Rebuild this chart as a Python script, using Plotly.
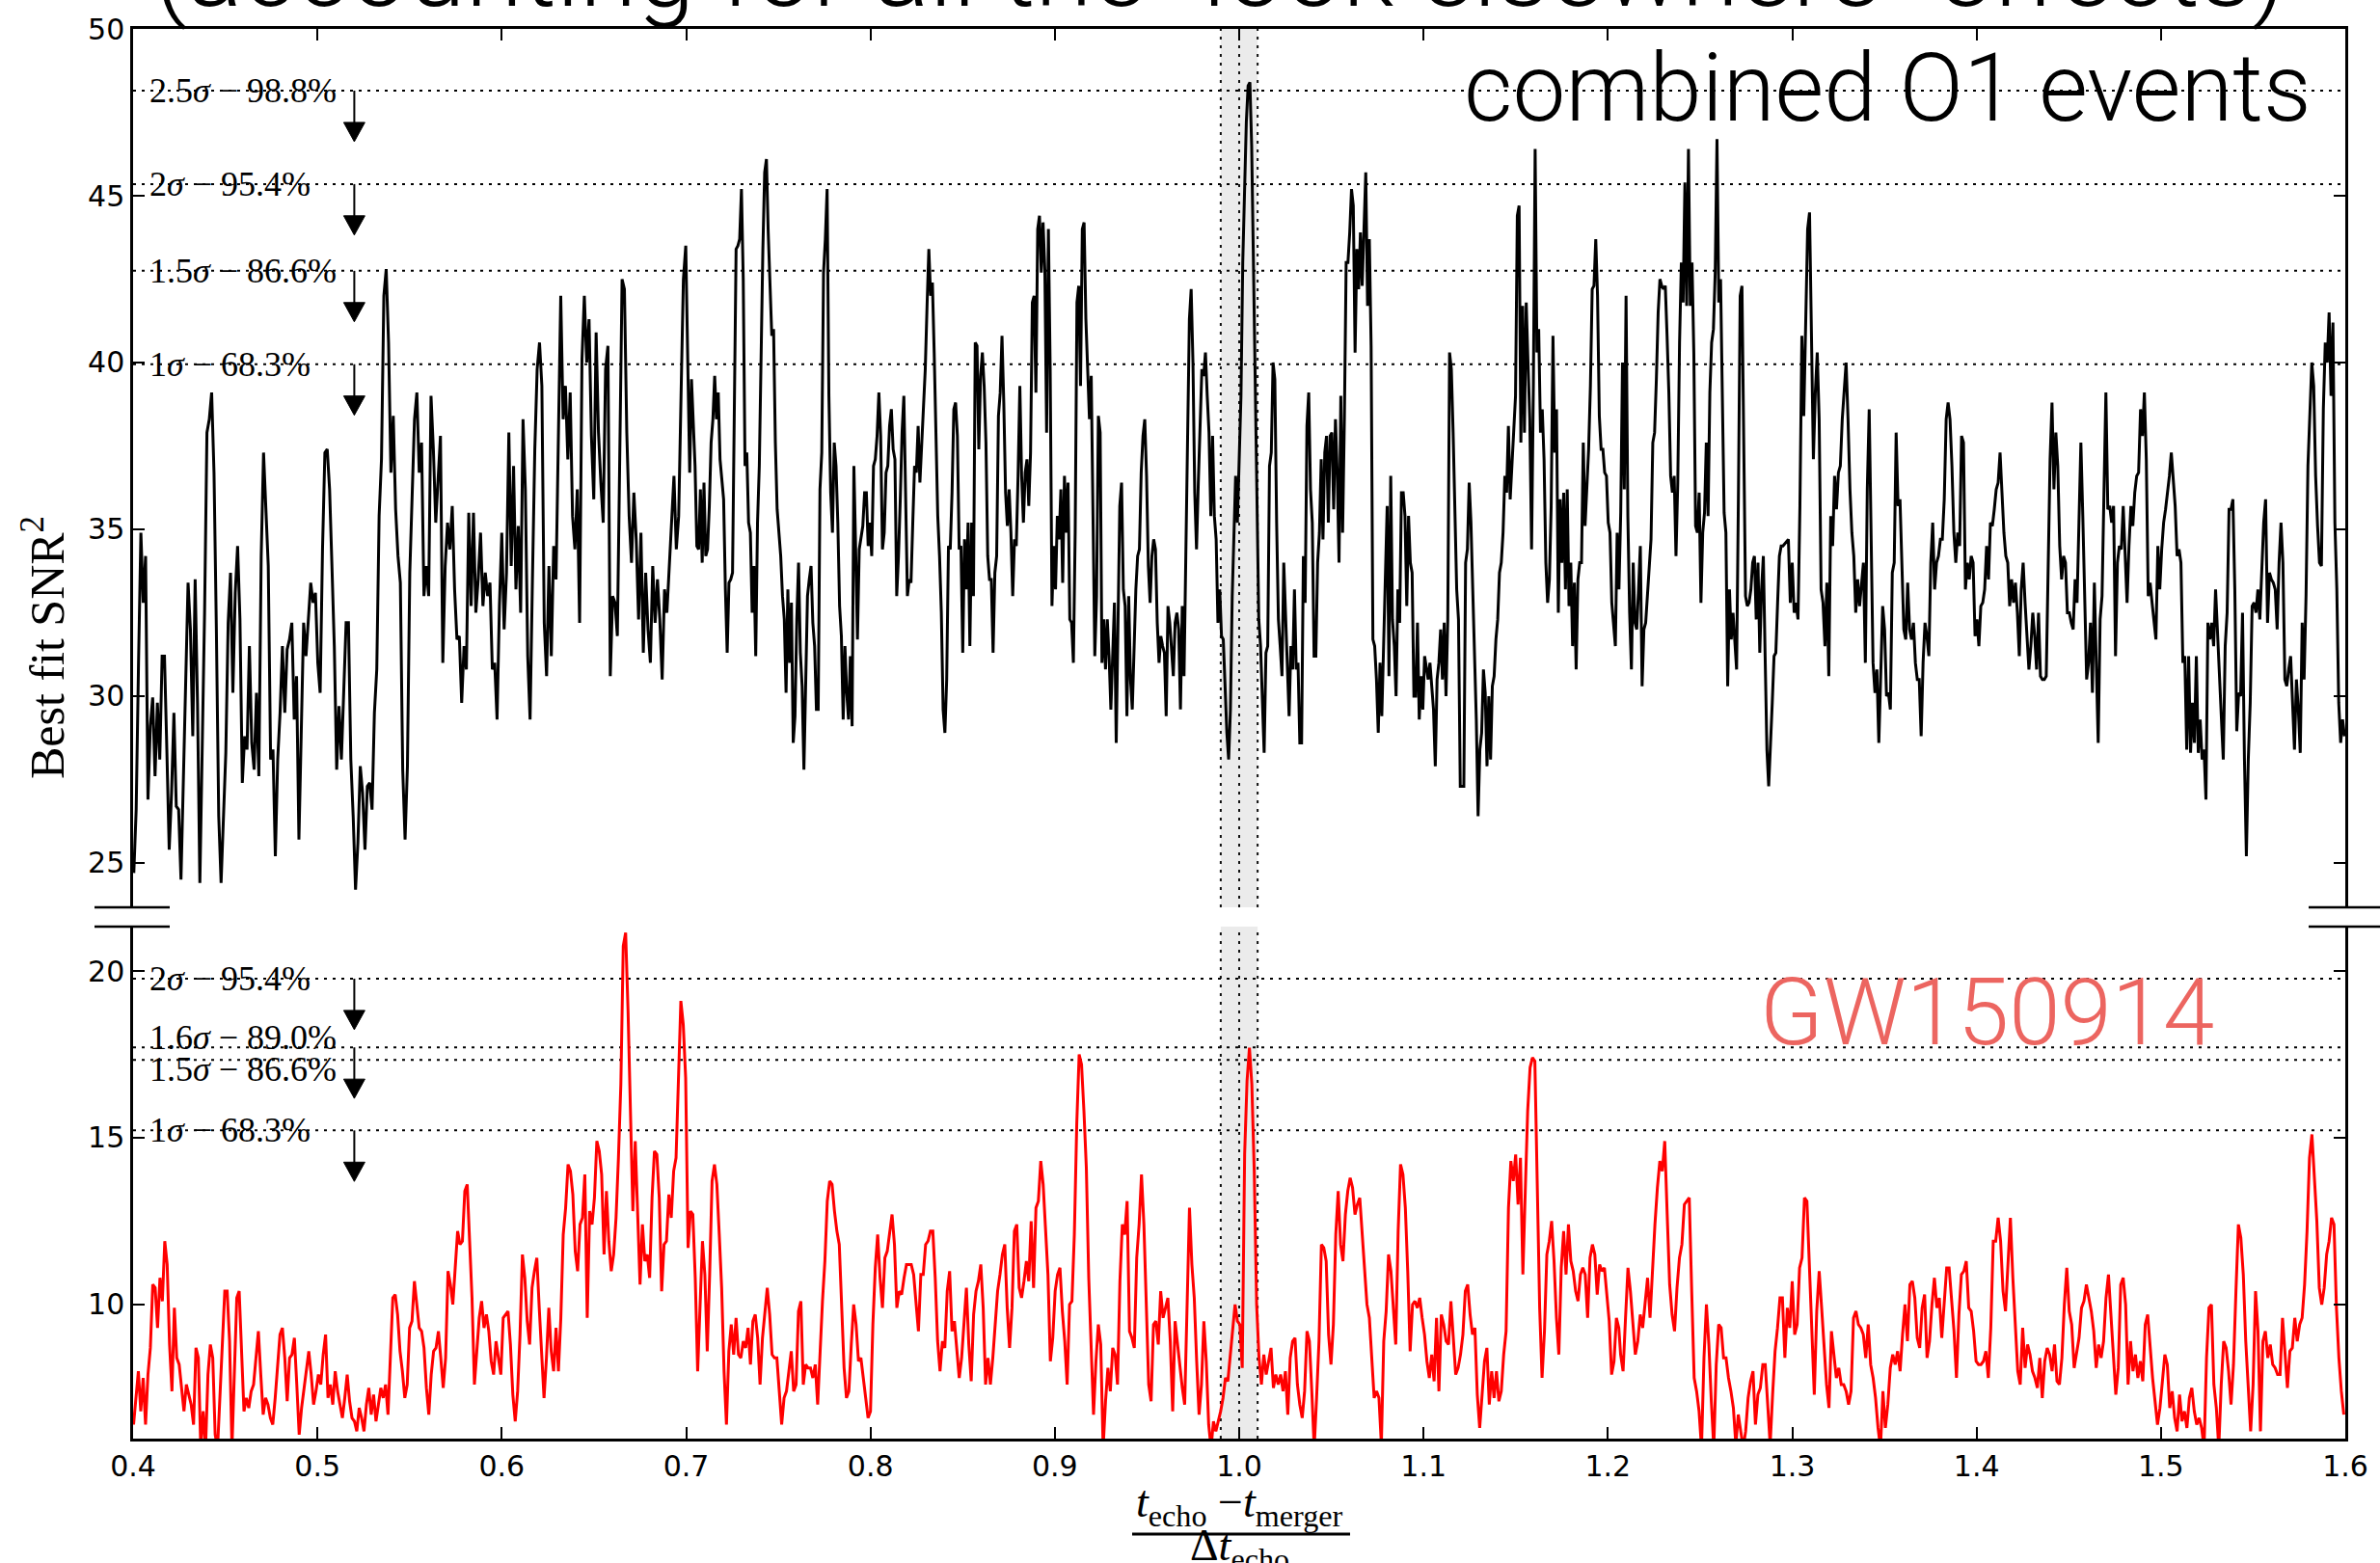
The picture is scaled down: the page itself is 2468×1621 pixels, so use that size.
import numpy as np
import plotly.graph_objects as go

# ---------------------------------------------------------------------------
# Best-fit SNR^2 versus echo time, sampled segment by segment
# ---------------------------------------------------------------------------
# combined O1 events (upper panel)
black_a_span = (0.4004, 0.6998)
black_a = [24.7, 26.6, 31.0, 34.9, 32.8, 34.2, 26.9, 29.1, 29.96, 27.6, 29.8, 28.1, 31.2, 31.2, 28.4, 25.4, 27.1, 29.5, 26.7, 26.6,
           24.5, 27.6, 29.8, 33.4, 32.0, 28.8, 33.5, 29.8, 24.4, 28.4, 32.5, 37.9, 38.3, 39.1, 36.7, 32.0, 26.4, 24.4, 26.1, 28.3,
           32.2, 33.7, 30.1, 33.1, 34.5, 32.3, 27.4, 28.8, 28.4, 31.5, 28.6, 27.8, 30.1, 27.6, 34.2, 37.3, 35.6, 33.9, 28.1, 28.4,
           25.2, 28.1, 29.5, 31.5, 29.5, 31.4, 31.7, 32.2, 29.3, 30.6, 25.7, 28.6, 32.2, 31.2, 32.5, 33.4, 32.8, 33.1, 31.0, 30.1,
           34.4, 37.3, 37.4, 36.2, 33.9, 31.5, 27.8, 29.7, 28.1, 30.4, 32.2, 32.2, 28.1, 26.4, 24.2, 25.6, 27.9, 27.1, 25.4, 27.3,
           27.4, 26.6, 29.5, 30.8, 35.4, 37.1, 42.0, 42.8, 40.6, 36.7, 38.4, 35.6, 34.2, 33.4, 27.8, 25.7, 27.9, 33.7, 36.2, 38.3,
           39.1, 36.7, 37.6, 33.0, 33.9, 33.0, 39.0, 37.4, 35.2, 36.6, 37.8, 31.0, 33.9, 35.2, 34.4, 35.7, 33.2, 31.7, 31.8, 29.8,
           31.5, 30.8, 35.5, 32.7, 35.5, 32.5, 33.5, 34.9, 32.7, 33.7, 33.0, 33.4, 30.8, 31.0, 29.3, 32.7, 34.9, 32.0, 33.7, 37.9,
           33.9, 36.9, 33.2, 35.1, 32.5, 38.3, 36.2, 31.2, 29.3, 33.5, 37.4, 39.8, 40.6, 39.3, 32.2, 30.6, 33.9, 31.2, 34.5, 33.5,
           37.6, 42.0, 38.3, 39.3, 37.1, 39.1, 35.4, 34.4, 36.2, 32.2, 40.1, 42.0, 40.0, 41.3, 37.8, 35.9, 40.9, 37.9, 36.4, 35.2,
           39.8, 40.5, 30.6, 33.0, 32.8, 31.8, 37.1, 42.5, 42.2, 37.9, 35.4, 34.0, 36.1, 34.7, 32.3, 34.9, 31.3, 33.7, 32.0, 31.0,
           33.9, 32.2, 33.5, 32.3, 30.5, 33.2, 32.5, 33.9, 35.2, 36.6, 34.4, 35.4, 39.0, 42.5, 43.5]

black_b_span = (0.70097, 0.99719)
black_b = [39.3, 36.7, 39.5, 38.3, 36.9, 34.5, 34.4, 36.2, 34.0, 36.4, 34.2, 34.4, 35.7, 37.6, 38.3, 39.6, 38.3, 39.1, 37.1, 36.5,
           35.9, 33.2, 31.3, 33.4, 33.5, 33.7, 39.5, 43.4, 43.5, 43.7, 45.2, 42.5, 36.9, 37.3, 35.2, 34.9, 32.5, 33.9, 31.2, 35.2,
           36.9, 40.3, 43.4, 45.7, 46.1, 43.9, 42.5, 40.8, 41.0, 37.6, 35.6, 34.9, 34.2, 33.0, 32.3, 30.1, 33.2, 31.0, 32.8, 28.6,
           29.4, 32.3, 34.0, 31.3, 30.3, 27.8, 30.0, 33.0, 33.5, 33.9, 32.2, 31.5, 29.6, 29.6, 36.2, 37.3, 42.7, 43.7, 45.2, 39.0,
           36.1, 34.9, 37.6, 36.9, 35.2, 32.7, 31.8, 29.3, 31.5, 30.1, 29.3, 31.2, 29.1, 36.9, 34.4, 31.7, 34.4, 34.7, 35.1, 36.1,
           36.1, 34.5, 35.2, 34.2, 36.9, 37.1, 37.8, 39.1, 37.8, 34.4, 34.9, 36.7, 36.9, 38.1, 38.6, 37.4, 37.1, 33.0, 34.2, 35.9,
           37.9, 39.0, 35.6, 33.0, 33.5, 33.4, 35.2, 36.9, 36.7, 38.1, 36.4, 37.6, 38.4, 39.8, 41.7, 43.4, 42.0, 42.4, 40.3, 37.4,
           35.4, 34.2, 32.5, 29.6, 28.9, 30.5, 34.5, 34.4, 36.1, 38.6, 38.8, 37.8, 34.4, 34.5, 31.3, 34.7, 33.2, 35.2, 31.5, 35.2,
           33.0, 40.6, 40.5, 37.4, 39.6, 40.3, 39.3, 37.6, 34.2, 33.5, 33.5, 31.3, 33.7, 34.2, 38.4, 39.1, 40.8, 38.8, 36.1, 35.1,
           36.2, 34.9, 33.0, 34.7, 34.5, 36.6, 39.3, 36.6, 35.2, 36.7, 37.1, 35.7, 37.3, 41.8, 42.0, 39.1, 44.0, 44.4, 42.7, 44.2,
           42.8, 37.9, 44.0, 39.8, 32.7, 34.5, 33.2, 35.4, 34.7, 36.2, 33.4, 36.6, 34.9, 36.4, 32.3, 32.2, 31.0, 34.9, 41.8, 42.3,
           39.3, 44.0, 44.2, 41.3, 39.8, 38.3, 39.6, 35.4, 31.2, 33.0, 38.4, 37.9, 31.0, 32.3, 30.8, 32.3, 31.2, 29.6, 31.2, 32.8,
           28.6, 32.7, 35.7, 36.4, 33.2, 32.7, 29.4, 33.0, 30.5, 29.6, 31.8, 33.2, 34.2, 34.4, 36.7, 37.8, 38.3, 36.6, 33.9, 32.8,
           34.2, 34.7, 34.4, 32.2, 31.0, 31.8, 31.5, 31.3, 29.4, 32.7, 32.2, 31.5, 30.6, 32.2, 32.5, 32.0, 29.6, 32.7, 30.6, 34.2,
           37.3, 41.3, 42.2, 40.0, 36.1, 34.4, 36.4, 38.1, 39.8, 39.6, 40.3, 39.0, 37.9, 35.4, 37.8, 35.4, 34.7, 32.2, 33.2, 31.8,
           31.7, 30.3, 28.9, 28.1, 29.6, 33.0, 35.1]

black_c_span = (0.99807, 1.29497)
black_c = [36.6, 35.2, 36.9, 39.0, 43.0, 45.0, 47.2, 48.3, 48.4, 46.5, 42.7, 39.3, 35.4, 32.3, 31.5, 29.8, 28.3, 31.3, 31.5, 36.9,
           37.3, 40.0, 39.5, 35.2, 32.3, 31.5, 30.6, 34.0, 32.5, 31.5, 29.4, 31.5, 30.8, 33.2, 30.8, 31.0, 28.6, 28.6, 34.2, 32.8,
           38.1, 39.1, 36.2, 35.2, 31.2, 31.2, 34.0, 34.9, 37.1, 34.7, 37.3, 37.8, 35.2, 37.8, 37.9, 35.6, 38.3, 36.7, 34.0, 39.0,
           34.9, 38.3, 43.0, 43.0, 43.9, 45.2, 44.7, 40.3, 43.4, 42.2, 43.9, 42.3, 44.0, 45.7, 41.7, 43.7, 40.5, 31.7, 31.5, 30.5,
           28.9, 31.0, 29.4, 31.5, 34.2, 35.7, 30.6, 36.6, 32.3, 31.5, 30.0, 33.2, 32.2, 36.1, 36.1, 35.4, 32.7, 35.4, 34.0, 33.7,
           30.0, 30.0, 32.2, 29.3, 30.6, 29.6, 31.2, 30.8, 30.5, 31.0, 30.3, 29.6, 27.9, 30.5, 31.0, 32.0, 30.5, 32.2, 30.0, 32.3,
           40.3, 39.8, 37.9, 35.2, 33.2, 32.3, 27.3, 27.3, 27.3, 34.0, 34.4, 36.4, 35.2, 33.2, 31.3, 29.3, 26.4, 28.4, 28.9, 30.8,
           30.1, 27.9, 30.0, 28.1, 30.3, 30.6, 31.7, 32.3, 33.7, 34.0, 34.9, 36.6, 36.1, 38.1, 35.9, 36.9, 37.8, 39.0, 44.4, 44.7,
           37.6, 41.7, 37.9, 41.8, 40.0, 38.3, 34.4, 39.3, 46.4, 40.3, 41.0, 37.9, 38.6, 37.1, 34.0, 32.8, 33.5, 35.7, 40.8, 37.3,
           38.6, 32.5, 35.9, 34.0, 36.1, 33.2, 36.2, 32.7, 34.0, 31.5, 33.4, 30.8, 33.5, 34.0, 34.0, 37.6, 35.1, 36.1, 37.4, 39.3,
           42.2, 42.3, 43.7, 42.0, 38.4, 37.4, 37.4, 36.7, 36.6, 35.2, 34.9, 32.8, 32.2, 31.5, 34.9, 33.2, 35.5, 40.0, 36.2, 42.0,
           35.4, 32.5, 30.8, 34.0, 32.2, 32.0, 33.2, 34.5, 30.3, 32.0, 32.2, 33.0, 33.7, 34.7, 37.6, 37.9, 39.5, 41.5, 42.5, 42.3,
           42.2, 42.3, 40.8, 39.1, 36.6, 36.1, 36.6, 34.2, 36.4, 40.6, 43.0, 41.8, 45.4, 41.7, 46.4, 41.7, 43.0, 40.3, 35.1, 34.9,
           36.1, 32.8, 34.9, 35.5, 37.6, 35.4, 39.1, 40.6, 41.0, 42.7, 46.7, 41.8, 42.5, 39.5, 35.5, 34.9, 30.3, 33.2, 31.7, 32.5,
           31.7, 30.8, 35.9, 42.0, 42.3, 36.7, 33.0, 32.7, 32.8, 33.2, 34.0, 34.2, 32.3, 34.0, 31.3, 33.2, 34.2, 31.2, 28.4, 27.3,
           28.4, 29.8, 31.2, 31.3, 32.8, 34.2, 34.5, 34.5]

black_d_span = (1.29791, 1.59958)
black_d = [34.7, 32.8, 34.0, 32.5, 32.8, 32.3, 35.7, 40.8, 38.4, 41.3, 44.0, 44.5, 40.6, 37.1, 39.1, 40.3, 38.3, 33.2, 32.8, 31.5,
           33.4, 30.6, 35.4, 34.5, 36.6, 35.6, 36.7, 36.9, 38.3, 39.3, 40.0, 38.3, 36.2, 34.9, 34.2, 32.5, 33.5, 32.7, 33.4, 34.0,
           31.0, 36.2, 38.6, 34.9, 31.0, 30.1, 30.8, 28.6, 30.6, 32.7, 32.0, 30.0, 30.1, 29.6, 33.7, 34.0, 37.9, 35.7, 35.9, 34.0,
           32.0, 31.7, 33.4, 32.0, 31.7, 32.2, 31.0, 30.5, 30.5, 28.8, 31.0, 32.2, 31.8, 31.2, 34.0, 35.2, 33.2, 34.0, 34.2, 34.7,
           34.7, 35.9, 38.3, 38.8, 38.3, 36.9, 34.9, 34.0, 34.9, 34.5, 37.8, 37.6, 33.2, 34.0, 33.5, 34.2, 34.0, 31.8, 32.3, 31.5,
           32.7, 32.8, 33.2, 34.5, 33.5, 35.2, 35.1, 35.6, 36.2, 36.4, 37.3, 36.1, 34.9, 34.2, 34.0, 32.7, 33.5, 32.8, 33.4, 32.5,
           31.2, 33.2, 34.0, 32.8, 31.8, 30.8, 31.5, 32.5, 31.8, 30.8, 32.5, 30.6, 30.5, 30.5, 30.6, 34.4, 37.1, 38.8, 36.2, 37.9,
           36.9, 34.5, 33.5, 34.2, 34.0, 32.5, 32.5, 32.2, 32.0, 33.5, 32.8, 35.2, 37.6, 35.4, 33.2, 30.5, 31.0, 32.2, 30.1, 33.4,
           31.0, 28.6, 32.3, 33.0, 36.1, 39.1, 35.6, 35.7, 35.2, 35.7, 31.2, 34.0, 34.5, 34.4, 35.7, 34.0, 32.8, 34.5, 35.7, 35.1,
           36.1, 36.6, 36.7, 38.6, 37.8, 39.1, 37.1, 33.0, 33.4, 32.8, 32.3, 31.7, 34.5, 33.2, 34.4, 35.2, 35.6, 36.1, 36.6, 37.3,
           36.6, 35.7, 34.2, 34.4, 34.0, 31.0, 31.2, 28.4, 31.2, 28.3, 29.8, 28.6, 31.2, 28.3, 29.3, 28.1, 28.4, 26.9, 32.2, 31.7,
           32.2, 31.5, 33.2, 31.8, 30.8, 29.4, 28.1, 31.5, 32.5, 35.6, 35.6, 35.9, 33.2, 28.95, 30.1, 30.0, 32.5, 28.1, 25.2, 28.1,
           29.8, 32.7, 32.8, 32.5, 33.2, 32.3, 33.7, 35.2, 35.9, 32.2, 33.7, 33.5, 33.4, 33.2, 32.0, 34.0, 35.2, 34.0, 30.5, 30.3,
           30.8, 31.2, 29.8, 28.4, 30.5, 29.6, 28.3, 32.2, 30.5, 33.0, 36.9, 38.6, 40.0, 39.3, 36.6, 35.1, 34.0, 33.9, 38.6, 40.6,
           40.0, 41.5, 39.0, 41.2, 35.2, 33.2, 29.8, 28.6, 29.3, 28.8]

# GW150914 (lower panel)
red_a_span = (0.40026, 0.80391)
red_a = [6.4, 7.1, 8.0, 6.8, 7.8, 6.4, 7.9, 8.7, 10.6, 10.5, 9.3, 10.8, 10.1, 11.9, 11.2, 8.8, 7.4, 9.9, 8.4, 8.2,
         7.5, 6.8, 7.6, 7.3, 7.0, 6.4, 8.7, 8.4, 5.7, 6.8, 5.7, 7.9, 8.8, 8.4, 6.1, 5.7, 7.4, 9.2, 10.4, 10.4,
         8.9, 5.7, 8.3, 10.2, 10.4, 8.5, 6.8, 7.2, 6.9, 7.4, 7.6, 8.4, 9.2, 7.9, 6.7, 7.2, 7.0, 6.6, 6.4, 7.2,
         8.1, 9.1, 9.3, 8.4, 7.1, 8.4, 8.5, 9.0, 7.6, 6.1, 6.9, 7.5, 8.0, 8.6, 7.9, 7.0, 7.4, 7.9, 7.6, 8.5,
         9.1, 7.2, 7.6, 7.0, 8.0, 7.4, 7.0, 6.6, 7.2, 7.9, 7.1, 6.6, 6.5, 6.2, 6.9, 6.6, 6.2, 7.0, 7.5, 6.7,
         7.3, 6.5, 7.0, 7.5, 7.2, 7.6, 6.7, 8.6, 10.2, 10.3, 9.7, 8.6, 8.0, 7.2, 7.6, 9.3, 9.5, 10.7, 10.0, 9.3,
         9.2, 8.7, 7.5, 6.7, 7.9, 8.6, 8.7, 9.2, 8.4, 7.5, 8.4, 11.0, 10.6, 10.0, 11.1, 12.2, 11.8, 11.9, 13.4, 13.6,
         11.9, 10.2, 7.6, 8.6, 9.6, 10.1, 9.3, 9.7, 9.2, 8.3, 7.9, 8.9, 8.4, 7.9, 9.6, 9.7, 9.8, 8.8, 7.3, 6.5,
         7.4, 9.1, 11.5, 10.8, 9.5, 8.8, 10.5, 11.0, 11.4, 9.9, 8.4, 7.2, 8.4, 9.9, 8.6, 8.0, 9.3, 8.0, 9.6, 12.1,
         12.9, 14.2, 14.0, 13.3, 11.6, 11.0, 12.4, 12.6, 13.9, 9.6, 12.8, 12.4, 13.2, 14.9, 14.6, 13.9, 11.5, 13.4, 11.9, 11.0,
         11.5, 12.6, 14.4, 16.6, 20.75, 21.15, 18.8, 15.4, 12.8, 14.9, 12.4, 10.6, 12.4, 11.3, 11.5, 10.8, 13.2, 14.6, 14.5, 13.2,
         10.4, 11.8, 11.9, 13.3, 12.6, 14.0, 14.4, 17.1, 19.1, 18.4, 16.8, 11.7, 12.8, 12.7, 10.8, 8.0, 10.0, 11.9, 10.9, 8.6,
         10.9, 13.7, 14.2, 13.6, 12.1, 10.5, 8.0, 6.4, 8.6, 9.4, 8.5, 9.6, 8.5, 8.4, 8.9, 8.7, 9.3, 8.2, 9.5, 9.7,
         9.0, 7.6, 9.0, 9.8, 10.5, 9.7, 8.5, 8.4, 8.4, 7.4, 6.4, 7.2, 7.4, 8.0, 8.6, 7.4, 7.6, 9.8, 10.1, 7.6,
         8.2, 8.1, 8.1, 7.8, 8.2, 7.0, 8.7, 10.1, 11.3, 13.1, 13.7, 13.6, 12.8, 12.2, 11.8, 10.1, 8.1, 7.2, 7.4, 8.8,
         10.0, 9.4, 8.3, 8.4, 7.7, 7.2, 6.6, 6.8, 9.4, 11.1, 12.1]

red_b_span = (0.80520, 1.20593)
red_b = [10.8, 9.9, 11.4, 11.6, 12.1, 12.7, 11.8, 9.9, 10.4, 10.3, 10.8, 11.2, 11.2, 11.2, 10.9, 10.0, 9.2, 10.9, 10.9, 11.8,
         11.9, 12.2, 12.2, 10.8, 8.9, 8.0, 8.9, 8.7, 10.4, 11.0, 9.2, 9.5, 8.6, 7.8, 8.4, 9.6, 10.5, 8.8, 7.7, 9.7,
         10.4, 10.7, 11.2, 9.9, 7.6, 8.4, 7.6, 8.4, 9.3, 10.4, 10.9, 11.5, 11.8, 9.9, 8.7, 9.9, 12.2, 12.4, 10.5, 10.2,
         10.7, 11.3, 10.7, 12.5, 10.5, 12.9, 13.1, 14.3, 13.6, 12.3, 10.9, 8.3, 9.0, 10.4, 10.9, 11.1, 9.8, 8.9, 7.6, 10.0,
         10.1, 12.1, 15.4, 17.5, 17.2, 15.8, 14.1, 10.8, 8.9, 6.7, 8.3, 9.4, 8.8, 5.7, 7.1, 8.1, 7.4, 8.7, 8.5, 7.6,
         10.7, 12.4, 12.1, 13.1, 9.2, 9.0, 8.7, 11.4, 12.4, 13.9, 12.4, 10.2, 7.6, 7.1, 9.4, 9.5, 8.8, 10.4, 9.6, 9.9,
         10.2, 8.9, 6.8, 9.5, 8.8, 8.0, 7.5, 7.0, 9.9, 12.9, 11.2, 10.2, 8.3, 6.7, 7.6, 9.5, 8.3, 6.4, 5.7, 6.5,
         6.2, 6.5, 6.8, 7.2, 7.8, 7.7, 8.4, 9.2, 10.0, 9.5, 9.4, 8.1, 14.5, 16.7, 17.7, 16.6, 14.0, 10.0, 8.4, 7.6,
         8.5, 7.9, 8.3, 8.7, 7.5, 7.9, 7.6, 7.9, 7.4, 8.0, 6.7, 8.4, 8.9, 9.0, 7.6, 7.0, 6.6, 7.4, 9.2, 8.9,
         7.4, 5.7, 7.2, 8.9, 11.8, 11.7, 11.3, 9.1, 8.2, 9.4, 12.1, 13.4, 11.8, 11.3, 12.7, 13.4, 13.8, 13.5, 12.7, 13.0,
         13.2, 12.1, 11.2, 10.0, 9.6, 8.2, 7.2, 7.4, 7.2, 5.8, 8.9, 9.8, 11.5, 11.0, 9.8, 8.8, 12.2, 14.2, 13.9, 12.9,
         11.0, 8.6, 10.0, 10.1, 9.9, 10.2, 9.6, 9.1, 8.3, 7.8, 8.5, 7.7, 9.6, 7.4, 9.7, 9.4, 8.9, 8.8, 10.1, 8.9,
         7.9, 8.1, 8.5, 9.1, 10.4, 10.6, 9.7, 9.1, 9.3, 7.3, 6.3, 7.3, 8.3, 8.7, 7.0, 8.0, 7.2, 8.0, 7.1, 7.4,
         8.5, 9.2, 12.9, 14.3, 13.7, 14.5, 13.0, 14.4, 10.9, 13.4, 15.8, 17.1, 17.4, 17.3, 13.0, 9.9, 7.8, 9.2, 11.5, 11.9,
         12.5, 11.3, 9.6, 8.5, 11.1, 12.2, 10.9, 12.4, 11.3, 11.0, 10.4, 10.1, 10.9, 11.1, 10.9, 9.6, 11.4, 11.8, 11.5, 10.3,
         11.2, 11.0, 11.1, 10.4, 9.5, 7.9, 8.3, 9.6, 9.3]

red_c_span = (1.20691, 1.59920)
red_c = [8.5, 8.0, 9.6, 11.1, 10.4, 9.3, 8.5, 8.9, 9.7, 9.3, 10.1, 10.8, 9.6, 11.2, 12.4, 13.5, 14.3, 14.0, 14.9, 12.7,
         10.6, 9.7, 9.2, 10.5, 11.4, 11.8, 13.0, 13.1, 13.2, 10.4, 7.8, 7.4, 6.8, 5.7, 8.4, 10.0, 8.8, 7.1, 5.7, 8.2,
         9.4, 9.3, 8.4, 8.4, 7.8, 7.4, 6.9, 5.8, 6.7, 6.2, 5.7, 6.2, 7.2, 7.7, 8.0, 6.4, 7.3, 7.5, 8.2, 8.2,
         6.9, 5.8, 7.3, 8.6, 9.3, 10.2, 10.2, 8.4, 9.9, 9.3, 10.7, 9.1, 9.4, 11.1, 11.4, 13.2, 13.1, 11.0, 9.2, 7.3,
         9.8, 11.0, 9.9, 8.6, 7.6, 6.9, 9.2, 8.5, 7.8, 8.1, 7.6, 7.6, 7.4, 7.0, 7.4, 9.6, 9.8, 9.4, 9.3, 9.1,
         8.4, 9.4, 8.2, 7.8, 7.2, 6.3, 5.7, 7.4, 6.3, 7.0, 8.1, 8.5, 8.2, 8.6, 8.0, 9.1, 10.0, 8.9, 10.6, 10.7,
         10.2, 9.0, 8.7, 9.9, 10.3, 8.4, 8.9, 10.0, 10.8, 9.9, 10.2, 9.0, 10.0, 11.1, 11.1, 10.2, 9.2, 7.8, 9.7, 10.9,
         11.0, 11.3, 9.9, 9.8, 9.2, 8.3, 8.2, 8.2, 8.3, 8.6, 7.8, 9.3, 11.9, 11.9, 12.6, 11.9, 10.4, 9.8, 11.4, 12.6,
         10.8, 9.2, 8.0, 7.6, 9.3, 8.1, 8.8, 8.5, 8.0, 7.8, 7.5, 8.4, 7.2, 8.3, 8.7, 8.5, 8.0, 8.8, 7.7, 7.6,
         8.4, 10.0, 11.1, 9.8, 9.4, 8.1, 8.5, 9.0, 9.9, 10.1, 10.6, 10.2, 9.8, 9.2, 8.1, 8.8, 8.4, 8.9, 10.2, 10.9,
         9.8, 8.7, 7.3, 8.1, 10.6, 10.8, 10.0, 7.6, 8.9, 8.0, 8.5, 7.8, 8.3, 7.7, 9.4, 9.7, 8.7, 7.8, 7.1, 6.4,
         6.9, 7.7, 8.5, 8.2, 6.9, 7.4, 6.6, 6.2, 7.3, 6.5, 6.8, 6.3, 7.2, 7.5, 6.8, 6.4, 6.6, 6.3, 5.7, 8.4,
         9.9, 10.0, 7.6, 6.9, 5.7, 7.6, 8.9, 8.7, 8.0, 7.0, 8.2, 10.4, 12.4, 12.0, 10.9, 8.9, 7.4, 6.2, 7.6, 10.4,
         9.2, 6.2, 8.9, 9.2, 8.4, 8.8, 8.2, 8.1, 7.9, 7.9, 9.6, 8.6, 7.5, 8.6, 8.7, 9.6, 8.9, 9.4, 9.6, 10.6,
         12.2, 14.4, 15.1, 13.8, 12.5, 10.5, 10.0, 10.5, 11.5, 11.9, 12.6, 12.4, 9.9, 8.4, 7.4, 6.7]

# Significance thresholds (value, label)
top_levels = [48.15, 45.35, 42.75, 39.95]
top_labels = ["2.5<i>σ</i> − 98.8%", "2<i>σ</i> − 95.4%", "1.5<i>σ</i> − 86.6%", "1<i>σ</i> − 68.3%"]
bot_levels = [19.77, 17.71, 17.33, 15.22]
bot_labels = ["2<i>σ</i> − 95.4%", "1.6<i>σ</i> − 89.0%", "1.5<i>σ</i> − 86.6%", "1<i>σ</i> − 68.3%"]
bot_label_y = [19.77, 18.02, 17.06, 15.22]
top_arrow_from = [48.15, 45.35, 42.75, 39.95]
bot_arrow_from = [19.77, 17.71, 15.22]

x_ticks = [0.4, 0.5, 0.6, 0.7, 0.8, 0.9, 1.0, 1.1, 1.2, 1.3, 1.4, 1.5, 1.6]
top_yticks = [25, 30, 35, 40, 45, 50]
bot_yticks = [10, 15, 20]
merger_band = (0.99, 1.01)
merger_lines = [0.99, 1.0, 1.01]

# ---------------------------------------------------------------------------
W, H = 2468, 1621
ML, MR, MT, MB = 138, 36, 30, 129
PW, PH = W - ML - MR, H - MT - MB
TOP_DOM = [(H - MB - 941) / PH, 1.0]
BOT_DOM = [0.0, (H - MB - 961) / PH]
TOP_RANGE = [23.67, 50.0]
BOT_RANGE = [5.98, 21.33]
X_RANGE = [0.4, 1.6]

def px_x(px):
    return (px - ML) / PW

def px_y(py):
    return (H - MB - py) / PH

def concat(parts):
    xs, ys = [], []
    for (a, b), vals in parts:
        xs.extend(np.linspace(a, b, len(vals)).tolist())
        ys.extend(vals)
    return xs, ys

bx, by = concat([(black_a_span, black_a), (black_b_span, black_b),
                 (black_c_span, black_c), (black_d_span, black_d)])
rx, ry = concat([(red_a_span, red_a), (red_b_span, red_b), (red_c_span, red_c)])

fig = go.Figure()
fig.add_trace(go.Scatter(x=bx, y=by, mode="lines", line=dict(color="black", width=3),
                         xaxis="x", yaxis="y", hoverinfo="skip"))
fig.add_trace(go.Scatter(x=rx, y=ry, mode="lines", line=dict(color="#ff0000", width=3),
                         xaxis="x2", yaxis="y2", hoverinfo="skip"))

SERIF = "Liberation Serif"
shapes, annotations = [], []
DOT = "3px,6px"

# merger window band and its dotted guides, in both panels
for yref in ("y domain", "y2 domain"):
    shapes.append(dict(type="rect", xref="x" if yref == "y domain" else "x2", yref=yref,
                       x0=merger_band[0], x1=merger_band[1], y0=0, y1=1,
                       fillcolor="#ebebeb", line=dict(width=0), layer="below"))
    for xv in merger_lines:
        shapes.append(dict(type="line", xref="x" if yref == "y domain" else "x2", yref=yref,
                           x0=xv, x1=xv, y0=0, y1=1,
                           line=dict(color="#111", width=2, dash=DOT), layer="below"))

# threshold lines
for lv in top_levels:
    shapes.append(dict(type="line", xref="x", yref="y", x0=X_RANGE[0], x1=X_RANGE[1], y0=lv, y1=lv,
                       line=dict(color="black", width=2, dash=DOT), layer="below"))
for lv in bot_levels:
    shapes.append(dict(type="line", xref="x2", yref="y2", x0=X_RANGE[0], x1=X_RANGE[1], y0=lv, y1=lv,
                       line=dict(color="black", width=2, dash=DOT), layer="below"))

LABEL_X = 0.4078
ARROW_X = 0.52
ARROW_LEN = 1.53
HEAD_H = 20 / 34.6                     # arrow head height in data units
HEAD_HW = 11 / (PW / 1.2)              # arrow head half width in data units

def arrow(xref, yref, y0):
    tip = y0 - ARROW_LEN
    shapes.append(dict(type="line", xref=xref, yref=yref, x0=ARROW_X, x1=ARROW_X, y0=y0, y1=tip + 0.3,
                       line=dict(color="black", width=2)))
    path = (f"M {ARROW_X - HEAD_HW} {tip + HEAD_H} L {ARROW_X + HEAD_HW} {tip + HEAD_H} "
            f"L {ARROW_X} {tip} Z")
    shapes.append(dict(type="path", xref=xref, yref=yref, path=path,
                       fillcolor="black", line=dict(color="black", width=1)))

LABEL_FONT = dict(family=SERIF, size=36, color="black")
for lv, lab in zip(top_levels, top_labels):
    annotations.append(dict(x=LABEL_X, y=lv, xref="x", yref="y", text=lab, showarrow=False,
                            xanchor="left", yanchor="middle", font=LABEL_FONT))
for lv, lab in zip(bot_label_y, bot_labels):
    annotations.append(dict(x=LABEL_X, y=lv, xref="x2", yref="y2", text=lab, showarrow=False,
                            xanchor="left", yanchor="middle", font=LABEL_FONT))
for y0 in top_arrow_from:
    arrow("x", "y", y0)
for y0 in bot_arrow_from:
    arrow("x2", "y2", y0)

# broken-axis marks on both sides
for yy in (px_y(941), px_y(961)):
    for x0, x1 in ((px_x(98), px_x(176)), (px_x(2394), px_x(2472))):
        shapes.append(dict(type="line", xref="paper", yref="paper", x0=x0, x1=x1, y0=yy, y1=yy,
                           line=dict(color="black", width=2.5)))

# axis title as a stacked fraction
annotations.append(dict(x=0.5, y=px_y(1561), xref="paper", yref="paper", showarrow=False,
                        text="<i>t</i><sub>echo</sub> −<i>t</i><sub>merger</sub>",
                        xanchor="center", yanchor="middle", font=dict(family=SERIF, size=46, color="black")))
shapes.append(dict(type="line", xref="paper", yref="paper", x0=px_x(1174), x1=px_x(1400),
                   y0=px_y(1591), y1=px_y(1591), line=dict(color="black", width=3)))
annotations.append(dict(x=0.5, y=px_y(1606), xref="paper", yref="paper", showarrow=False,
                        text="Δ<i>t</i><sub>echo</sub>",
                        xanchor="center", yanchor="middle", font=dict(family=SERIF, size=46, color="black")))

annotations.append(dict(x=px_x(45), y=px_y(672), xref="paper", yref="paper", showarrow=False,
                        text="Best fit SNR<sup>2</sup>", textangle=-90,
                        xanchor="center", yanchor="middle", font=dict(family=SERIF, size=50, color="black")))

# panel captions
annotations.append(dict(x=px_x(2399), y=px_y(92), xref="paper", yref="paper", showarrow=False,
                        text="combined O1 events", xanchor="right", yanchor="middle",
                        font=dict(family="Roboto", size=98, color="black", weight=300)))
annotations.append(dict(x=px_x(2060), y=px_y(1050), xref="paper", yref="paper", showarrow=False,
                        text="GW150914", xanchor="center", yanchor="middle",
                        font=dict(family="Roboto", size=96, color="#ec6560", weight=300)))
annotations.append(dict(x=px_x(1265), y=px_y(34), xref="paper", yref="paper", showarrow=False,
                        text="(accounting for all the “look elsewhere” effects)", xanchor="center", yanchor="bottom",
                        font=dict(family="Roboto", size=108, color="black", weight=300)))

TICKFONT = dict(family="DejaVu Sans", size=30, color="black")
axis_common = dict(showgrid=False, zeroline=False, showline=True, linecolor="black", linewidth=2.5,
                   ticks="inside", ticklen=12, tickwidth=2, tickcolor="black", tickfont=TICKFONT)

fig.update_layout(
    width=W, height=H, margin=dict(l=ML, r=MR, t=MT, b=MB, pad=0),
    paper_bgcolor="white", plot_bgcolor="white", showlegend=False,
    xaxis=dict(domain=[0, 1], range=X_RANGE, anchor="y", side="top", tickvals=x_ticks,
               showticklabels=False, **axis_common),
    xaxis2=dict(domain=[0, 1], range=X_RANGE, anchor="y2", side="bottom", tickvals=x_ticks,
                tickformat=".1f", **axis_common),
    yaxis=dict(domain=TOP_DOM, range=TOP_RANGE, anchor="x", tickvals=top_yticks, mirror="ticks", **axis_common),
    yaxis2=dict(domain=BOT_DOM, range=BOT_RANGE, anchor="x2", tickvals=bot_yticks, mirror="ticks", **axis_common),
    shapes=shapes, annotations=annotations,
)

fig.write_html("out.html")
